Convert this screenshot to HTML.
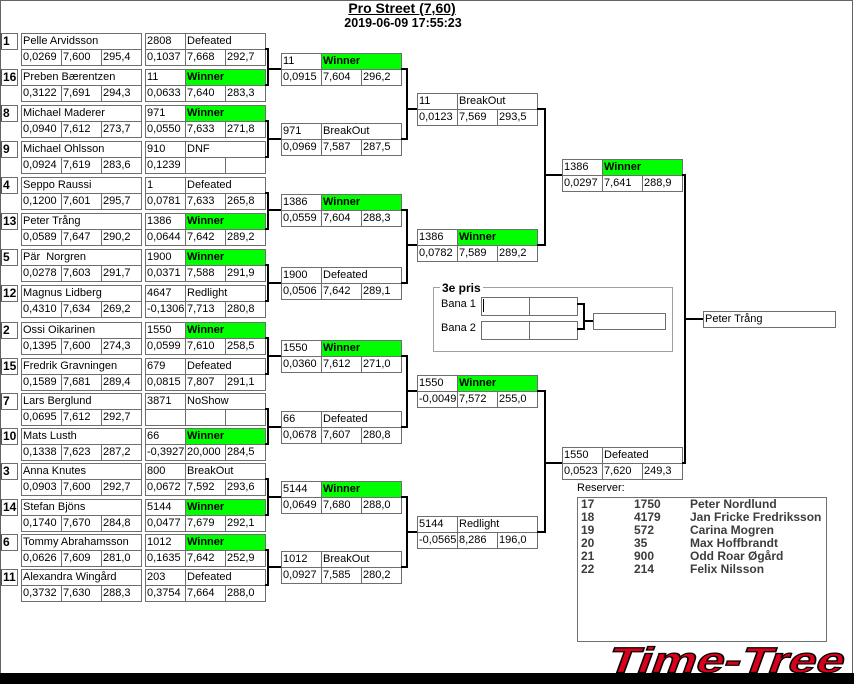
<!DOCTYPE html>
<html><head><meta charset="utf-8">
<style>
html,body{margin:0;padding:0}
body{width:854px;height:684px;position:relative;overflow:hidden;background:#fff;font-family:"Liberation Sans",Arial,sans-serif;color:#000}
.g{position:absolute}
.g>i{position:absolute;box-sizing:border-box;border:1px solid #6e6e6e;height:17px;font-style:normal;font-size:11px;line-height:15px;padding-left:1px;white-space:nowrap;overflow:hidden;background:#fff}
.g>i.s{left:-21px;top:0;width:18px;font-weight:bold;font-size:12px;padding-left:1px;border-left:2px solid #555}
.g>i.n{left:0;top:0;width:121px}
.g>i.k{left:0;top:0;width:41px}
.g>i.t{left:40px;top:0;width:81px}
.g>i.u{left:0;top:16px;width:41px}
.g>i.v{left:40px;top:16px;width:41px}
.g>i.x{left:80px;top:16px;width:41px}
.g>i.w{background:#00ff00;font-weight:bold}
.b{position:absolute;box-sizing:border-box;border:2px solid #000;border-left:0}
.l{position:absolute;background:#000;height:2px}
.rs{position:absolute;top:498px;font-size:12px;font-weight:bold;line-height:13px;color:#3c3c3c;white-space:nowrap}
</style></head><body>

<!-- frame -->
<div style="position:absolute;left:0;top:0;width:853px;height:1px;background:#646464"></div>
<div style="position:absolute;left:0;top:0;width:1px;height:684px;background:#646464"></div>
<div style="position:absolute;left:852px;top:0;width:1px;height:684px;background:#646464"></div>
<div style="position:absolute;left:0;top:673px;width:854px;height:11px;background:#000"></div>

<!-- title -->
<div style="position:absolute;left:0;top:0;width:804px;text-align:center;font-weight:bold;font-size:14px;line-height:16px;text-decoration:underline">Pro Street (7,60)</div>
<div style="position:absolute;left:0;top:16px;width:806px;text-align:center;font-weight:bold;font-size:12.5px;line-height:14px">2019-06-09 17:55:23</div>

<!-- round 1 players -->
<div class="g" style="left:21px;top:33px"><i class="s">1</i><i class="n">Pelle Arvidsson</i><i class="u">0,0269</i><i class="v">7,600</i><i class="x">295,4</i></div>
<div class="g" style="left:145px;top:33px"><i class="k">2808</i><i class="t">Defeated</i><i class="u">0,1037</i><i class="v">7,668</i><i class="x">292,7</i></div>

<div class="g" style="left:21px;top:69px"><i class="s">16</i><i class="n">Preben Bærentzen</i><i class="u">0,3122</i><i class="v">7,691</i><i class="x">294,3</i></div>
<div class="g" style="left:145px;top:69px"><i class="k">11</i><i class="t w">Winner</i><i class="u">0,0633</i><i class="v">7,640</i><i class="x">283,3</i></div>

<div class="g" style="left:21px;top:105px"><i class="s">8</i><i class="n">Michael Maderer</i><i class="u">0,0940</i><i class="v">7,612</i><i class="x">273,7</i></div>
<div class="g" style="left:145px;top:105px"><i class="k">971</i><i class="t w">Winner</i><i class="u">0,0550</i><i class="v">7,633</i><i class="x">271,8</i></div>

<div class="g" style="left:21px;top:141px"><i class="s">9</i><i class="n">Michael Ohlsson</i><i class="u">0,0924</i><i class="v">7,619</i><i class="x">283,6</i></div>
<div class="g" style="left:145px;top:141px"><i class="k">910</i><i class="t">DNF</i><i class="u">0,1239</i><i class="v"></i><i class="x"></i></div>

<div class="g" style="left:21px;top:177px"><i class="s">4</i><i class="n">Seppo Raussi</i><i class="u">0,1200</i><i class="v">7,601</i><i class="x">295,7</i></div>
<div class="g" style="left:145px;top:177px"><i class="k">1</i><i class="t">Defeated</i><i class="u">0,0781</i><i class="v">7,633</i><i class="x">265,8</i></div>

<div class="g" style="left:21px;top:213px"><i class="s">13</i><i class="n">Peter Trång</i><i class="u">0,0589</i><i class="v">7,647</i><i class="x">290,2</i></div>
<div class="g" style="left:145px;top:213px"><i class="k">1386</i><i class="t w">Winner</i><i class="u">0,0644</i><i class="v">7,642</i><i class="x">289,2</i></div>

<div class="g" style="left:21px;top:249px"><i class="s">5</i><i class="n">Pär&nbsp; Norgren</i><i class="u">0,0278</i><i class="v">7,603</i><i class="x">291,7</i></div>
<div class="g" style="left:145px;top:249px"><i class="k">1900</i><i class="t w">Winner</i><i class="u">0,0371</i><i class="v">7,588</i><i class="x">291,9</i></div>

<div class="g" style="left:21px;top:285px"><i class="s">12</i><i class="n">Magnus Lidberg</i><i class="u">0,4310</i><i class="v">7,634</i><i class="x">269,2</i></div>
<div class="g" style="left:145px;top:285px"><i class="k">4647</i><i class="t">Redlight</i><i class="u">-0,1306</i><i class="v">7,713</i><i class="x">280,8</i></div>

<div class="g" style="left:21px;top:322px"><i class="s">2</i><i class="n">Ossi Oikarinen</i><i class="u">0,1395</i><i class="v">7,600</i><i class="x">274,3</i></div>
<div class="g" style="left:145px;top:322px"><i class="k">1550</i><i class="t w">Winner</i><i class="u">0,0599</i><i class="v">7,610</i><i class="x">258,5</i></div>

<div class="g" style="left:21px;top:358px"><i class="s">15</i><i class="n">Fredrik Gravningen</i><i class="u">0,1589</i><i class="v">7,681</i><i class="x">289,4</i></div>
<div class="g" style="left:145px;top:358px"><i class="k">679</i><i class="t">Defeated</i><i class="u">0,0815</i><i class="v">7,807</i><i class="x">291,1</i></div>

<div class="g" style="left:21px;top:393px"><i class="s">7</i><i class="n">Lars Berglund</i><i class="u">0,0695</i><i class="v">7,612</i><i class="x">292,7</i></div>
<div class="g" style="left:145px;top:393px"><i class="k">3871</i><i class="t">NoShow</i><i class="u"></i><i class="v"></i><i class="x"></i></div>

<div class="g" style="left:21px;top:428px"><i class="s">10</i><i class="n">Mats Lusth</i><i class="u">0,1338</i><i class="v">7,623</i><i class="x">287,2</i></div>
<div class="g" style="left:145px;top:428px"><i class="k">66</i><i class="t w">Winner</i><i class="u">-0,3927</i><i class="v">20,000</i><i class="x">284,5</i></div>

<div class="g" style="left:21px;top:463px"><i class="s">3</i><i class="n">Anna Knutes</i><i class="u">0,0903</i><i class="v">7,600</i><i class="x">292,7</i></div>
<div class="g" style="left:145px;top:463px"><i class="k">800</i><i class="t">BreakOut</i><i class="u">0,0672</i><i class="v">7,592</i><i class="x">293,6</i></div>

<div class="g" style="left:21px;top:499px"><i class="s">14</i><i class="n">Stefan Bjöns</i><i class="u">0,1740</i><i class="v">7,670</i><i class="x">284,8</i></div>
<div class="g" style="left:145px;top:499px"><i class="k">5144</i><i class="t w">Winner</i><i class="u">0,0477</i><i class="v">7,679</i><i class="x">292,1</i></div>

<div class="g" style="left:21px;top:534px"><i class="s">6</i><i class="n">Tommy Abrahamsson</i><i class="u">0,0626</i><i class="v">7,609</i><i class="x">281,0</i></div>
<div class="g" style="left:145px;top:534px"><i class="k">1012</i><i class="t w">Winner</i><i class="u">0,1635</i><i class="v">7,642</i><i class="x">252,9</i></div>

<div class="g" style="left:21px;top:569px"><i class="s">11</i><i class="n">Alexandra Wingård</i><i class="u">0,3732</i><i class="v">7,630</i><i class="x">288,3</i></div>
<div class="g" style="left:145px;top:569px"><i class="k">203</i><i class="t">Defeated</i><i class="u">0,3754</i><i class="v">7,664</i><i class="x">288,0</i></div>

<!-- round 1 brackets -->
<div class="b" style="left:265px;top:48px;width:4px;height:38px"></div><div class="l" style="left:267px;top:68px;width:14px"></div>
<div class="b" style="left:265px;top:120px;width:4px;height:38px"></div><div class="l" style="left:267px;top:138px;width:14px"></div>
<div class="b" style="left:265px;top:192px;width:4px;height:38px"></div><div class="l" style="left:267px;top:209px;width:14px"></div>
<div class="b" style="left:265px;top:264px;width:4px;height:38px"></div><div class="l" style="left:267px;top:282px;width:14px"></div>
<div class="b" style="left:265px;top:337px;width:4px;height:38px"></div><div class="l" style="left:267px;top:355px;width:14px"></div>
<div class="b" style="left:265px;top:408px;width:4px;height:37px"></div><div class="l" style="left:267px;top:426px;width:14px"></div>
<div class="b" style="left:265px;top:478px;width:4px;height:38px"></div><div class="l" style="left:267px;top:496px;width:14px"></div>
<div class="b" style="left:265px;top:549px;width:4px;height:37px"></div><div class="l" style="left:267px;top:566px;width:14px"></div>

<!-- round 2 -->
<div class="g" style="left:281px;top:53px"><i class="k">11</i><i class="t w">Winner</i><i class="u">0,0915</i><i class="v">7,604</i><i class="x">296,2</i></div>
<div class="g" style="left:281px;top:123px"><i class="k">971</i><i class="t">BreakOut</i><i class="u">0,0969</i><i class="v">7,587</i><i class="x">287,5</i></div>
<div class="g" style="left:281px;top:194px"><i class="k">1386</i><i class="t w">Winner</i><i class="u">0,0559</i><i class="v">7,604</i><i class="x">288,3</i></div>
<div class="g" style="left:281px;top:267px"><i class="k">1900</i><i class="t">Defeated</i><i class="u">0,0506</i><i class="v">7,642</i><i class="x">289,1</i></div>
<div class="g" style="left:281px;top:340px"><i class="k">1550</i><i class="t w">Winner</i><i class="u">0,0360</i><i class="v">7,612</i><i class="x">271,0</i></div>
<div class="g" style="left:281px;top:411px"><i class="k">66</i><i class="t">Defeated</i><i class="u">0,0678</i><i class="v">7,607</i><i class="x">280,8</i></div>
<div class="g" style="left:281px;top:481px"><i class="k">5144</i><i class="t w">Winner</i><i class="u">0,0649</i><i class="v">7,680</i><i class="x">288,0</i></div>
<div class="g" style="left:281px;top:551px"><i class="k">1012</i><i class="t">BreakOut</i><i class="u">0,0927</i><i class="v">7,585</i><i class="x">280,2</i></div>

<!-- round 2 brackets -->
<div class="b" style="left:401px;top:68px;width:7px;height:72px"></div><div class="l" style="left:407px;top:108px;width:10px"></div>
<div class="b" style="left:401px;top:209px;width:7px;height:75px"></div><div class="l" style="left:407px;top:244px;width:10px"></div>
<div class="b" style="left:401px;top:355px;width:7px;height:73px"></div><div class="l" style="left:407px;top:390px;width:10px"></div>
<div class="b" style="left:401px;top:496px;width:7px;height:72px"></div><div class="l" style="left:407px;top:531px;width:10px"></div>

<!-- round 3 -->
<div class="g" style="left:417px;top:93px"><i class="k">11</i><i class="t">BreakOut</i><i class="u">0,0123</i><i class="v">7,569</i><i class="x">293,5</i></div>
<div class="g" style="left:417px;top:229px"><i class="k">1386</i><i class="t w">Winner</i><i class="u">0,0782</i><i class="v">7,589</i><i class="x">289,2</i></div>
<div class="g" style="left:417px;top:375px"><i class="k">1550</i><i class="t w">Winner</i><i class="u">-0,0049</i><i class="v">7,572</i><i class="x">255,0</i></div>
<div class="g" style="left:417px;top:516px"><i class="k">5144</i><i class="t">Redlight</i><i class="u">-0,0565</i><i class="v">8,286</i><i class="x">196,0</i></div>

<!-- round 3 brackets -->
<div class="b" style="left:537px;top:108px;width:9px;height:138px"></div><div class="l" style="left:545px;top:174px;width:17px"></div>
<div class="b" style="left:537px;top:390px;width:9px;height:143px"></div><div class="l" style="left:545px;top:462px;width:17px"></div>

<!-- round 4 -->
<div class="g" style="left:562px;top:159px"><i class="k">1386</i><i class="t w">Winner</i><i class="u">0,0297</i><i class="v">7,641</i><i class="x">288,9</i></div>
<div class="g" style="left:562px;top:447px"><i class="k">1550</i><i class="t">Defeated</i><i class="u">0,0523</i><i class="v">7,620</i><i class="x">249,3</i></div>

<!-- final -->
<div class="b" style="left:682px;top:174px;width:4px;height:290px"></div><div class="l" style="left:685px;top:318px;width:18px"></div>
<div class="g" style="left:703px;top:311px"><i class="n" style="width:133px">Peter Trång</i></div>

<!-- 3e pris -->
<div style="position:absolute;left:433px;top:287px;width:240px;height:65px;box-sizing:border-box;border:1px solid #a0a0a0"></div>
<div style="position:absolute;left:440px;top:281px;padding:0 2px;background:#fff;font-weight:bold;font-size:12px;line-height:14px">3e pris</div>
<div style="position:absolute;left:441px;top:297px;font-size:11px;line-height:14px">Bana 1</div>
<div style="position:absolute;left:441px;top:321px;font-size:11px;line-height:14px">Bana 2</div>
<div style="position:absolute;left:481px;top:297px;width:97px;height:19px;box-sizing:border-box;border:1px solid #6e6e6e"></div>
<div style="position:absolute;left:529px;top:297px;width:1px;height:19px;background:#6e6e6e"></div>
<div style="position:absolute;left:483px;top:299px;width:1px;height:13px;background:#000"></div>
<div style="position:absolute;left:481px;top:321px;width:97px;height:19px;box-sizing:border-box;border:1px solid #6e6e6e"></div>
<div style="position:absolute;left:529px;top:321px;width:1px;height:19px;background:#6e6e6e"></div>
<div class="b" style="left:577px;top:303px;width:8px;height:27px"></div><div class="l" style="left:584px;top:320px;width:9px"></div>
<div style="position:absolute;left:593px;top:313px;width:73px;height:17px;box-sizing:border-box;border:1px solid #6e6e6e"></div>

<!-- Reserver -->
<div style="position:absolute;left:577px;top:482px;font-size:11px;line-height:13px">Reserver:</div>
<div style="position:absolute;left:577px;top:497px;width:250px;height:145px;box-sizing:border-box;border:1px solid #707070"></div>
<div class="rs" style="left:581px">17<br>18<br>19<br>20<br>21<br>22</div>
<div class="rs" style="left:634px">1750<br>4179<br>572<br>35<br>900<br>214</div>
<div class="rs" style="left:690px">Peter Nordlund<br>Jan Fricke Fredriksson<br>Carina Mogren<br>Max Hoffbrandt<br>Odd Roar Øgård<br>Felix Nilsson</div>

<!-- logo -->
<svg style="position:absolute;left:600px;top:640px" width="254" height="33" viewBox="0 0 254 33">
<text x="17" y="32.5" transform="skewX(-20)" font-family="Liberation Sans, Arial, sans-serif" font-weight="bold" font-size="36" textLength="236" lengthAdjust="spacingAndGlyphs" fill="#d8001a" stroke="#000" stroke-width="1.2">Time-Tree</text>
</svg>

</body></html>
